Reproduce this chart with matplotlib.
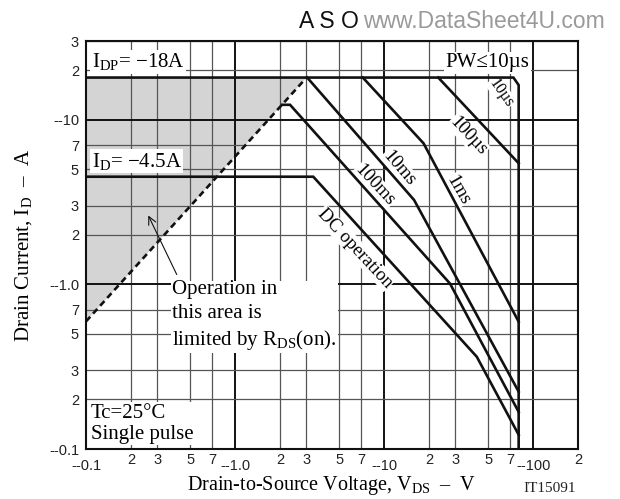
import matplotlib
matplotlib.use('Agg')
import matplotlib.pyplot as plt

plt.rcParams['mathtext.fontset'] = 'custom'
plt.rcParams['mathtext.rm'] = 'Liberation Serif'
plt.rcParams['mathtext.it'] = 'Liberation Serif:italic'

serif = ['Liberation Serif', 'DejaVu Serif']
sans = ['Liberation Sans', 'DejaVu Sans']

# curves: VDS (V) and ID (A), magnitudes
idp_v = [0.1, 73.8, 80, 80]          # IDP = 18A line, PW<=10us corner, VDSS edge
idp_i = [18, 18, 16.2, 0.1]
us100_v = [23.1, 80]
us100_i = [18, 5.43]
ms1_v = [7.2, 18.4, 80]
ms1_i = [18, 7.18, 0.593]
ms10_v = [3.05, 15.9, 80]
ms10_i = [18, 3.25, 0.223]
ms100_v = [2.07, 2.34, 27.7, 80]
ms100_i = [12.3, 12.3, 1.01, 0.168]
dc_v = [0.1, 3.35, 41.9, 80]
dc_i = [4.5, 4.5, 0.363, 0.122]
rds_v = [0.1, 3.02]                   # RDS(on) limit
rds_i = [0.595, 18]

# axis ticks
xticks_major = [0.1, 1, 10, 100]
xlabels_major = ['--0.1', '--1.0', '--10', '--100']
xticks_minor = [0.2, 0.3, 0.5, 0.7, 2, 3, 5, 7, 20, 30, 50, 70, 200]
xlabels_minor = ['2', '3', '5', '7', '2', '3', '5', '7', '2', '3', '5', '7', '2']
yticks_major = [0.1, 1, 10]
ylabels_major = ['--0.1', '--1.0', '--10']
yticks_minor = [0.2, 0.3, 0.5, 0.7, 2, 3, 5, 7, 20, 30]
ylabels_minor = ['2', '3', '5', '7', '2', '3', '5', '7', '2', '3']

fig = plt.figure(figsize=(6.2, 4.99), dpi=100)
ax = fig.add_axes([0.1387, 0.1002, 0.7935, 0.8176])
ax.set_xscale('log')
ax.set_yscale('log')
ax.set_xlim(0.1, 200)
ax.set_ylim(0.1, 30)

# shaded RDS(on) area
ax.fill([rds_v[0], rds_v[1], rds_v[0]], [rds_i[0], rds_i[1], rds_i[1]],
        color='#d4d4d4', lw=0, zorder=0.3)

lw = 1.9
for v, i in [(idp_v, idp_i), (us100_v, us100_i), (ms1_v, ms1_i),
             (ms10_v, ms10_i), (ms100_v, ms100_i), (dc_v, dc_i)]:
    ax.plot(v, i, color='#111111', lw=lw, zorder=4, solid_joinstyle='miter')
ax.plot(rds_v, rds_i, color='#111111', lw=lw, ls=(0, (2.4, 1.6)), zorder=4)

# grid
ax.set_axisbelow(True)
ax.set_xticks(xticks_major, xlabels_major)
ax.set_xticks(xticks_minor, xlabels_minor, minor=True)
ax.set_yticks(yticks_major, ylabels_major)
ax.set_yticks(yticks_minor, ylabels_minor, minor=True)
ax.grid(which='major', color='#111111', lw=1.4)
ax.grid(which='minor', color='#555555', lw=0.9)
ax.tick_params(which='both', length=0, labelsize=10.5, colors='#222222')
ax.tick_params(axis='x', which='major', pad=7)
ax.tick_params(axis='x', which='minor', pad=3)
ax.tick_params(axis='y', which='both', pad=5)
for t in ax.get_xticklabels(which='both') + ax.get_yticklabels(which='both'):
    t.set_family(sans)
for s in ax.spines.values():
    s.set_linewidth(1.5)
    s.set_color('#111111')

box = dict(facecolor='white', edgecolor='none', pad=1.0)
ax.text(0.109, 22.5, r'I$_{\mathrm{DP}}$= −18A', family=serif, fontsize=15,
        ha='left', va='center', bbox=box, zorder=3)
ax.text(0.109, 5.6, r'I$_{\mathrm{D}}$= −4.5A', family=serif, fontsize=15,
        ha='left', va='center', bbox=box, zorder=3)
ax.text(49.5, 22.1, 'PW≤10µs', family=serif, fontsize=15,
        ha='center', va='center', bbox=box, zorder=3)
ax.text(0.378, 0.642, 'Operation in\nthis area is\n' + r'limited by R$_{\mathrm{DS}}$(on).',
        family=serif, fontsize=15, ha='left', va='center', linespacing=1.3,
        bbox=box, zorder=3)
ax.text(0.108, 0.142, 'Tc=25°C\nSingle pulse', family=serif, fontsize=15,
        ha='left', va='center', linespacing=1.15, bbox=box, zorder=3)

rbox = dict(facecolor='white', edgecolor='none', pad=0.5)
labels = [('10µs', 61, 14.5, -55, 11.5), ('100µs', 36.6, 7.95, -47, 13.5),
          ('1ms', 31.4, 3.74, -60, 13.5), ('10ms', 12.6, 5.08, -49, 13.5),
          ('100ms', 8.7, 4.0, -47, 13.5), ('DC operation', 6.39, 1.66, -47, 13.5)]
for txt, x, y, rot, fs in labels:
    ax.text(x, y, txt, family=serif, fontsize=fs, rotation=rot,
            rotation_mode='anchor', ha='center', va='center', bbox=rbox, zorder=3)

ax.annotate('', xy=(0.257, 2.71), xytext=(0.414, 1.107),
            arrowprops=dict(arrowstyle='->', lw=0.8, color='#111111',
                            mutation_scale=14), zorder=3)

ax.set_xlabel(r'Drain-to-Source Voltage, V$_{\mathrm{DS}}$  –  V', family=serif,
              fontsize=14.5, labelpad=1)
ax.set_ylabel(r'Drain Current, I$_{\mathrm{D}}$  –  A', family=serif,
              fontsize=15, labelpad=11)

fig.text(329 / 620, 1 - 22 / 499, 'A S O', family=sans, fontsize=16.5,
         ha='center', va='center', color='#111111')
fig.text(484 / 620, 1 - 22 / 499, 'www.DataSheet4U.com', family=sans,
         fontsize=16.5, ha='center', va='center', color='#9a9a9a')
fig.text(550 / 620, 1 - 488 / 499, 'IT15091', family=serif, fontsize=11,
         ha='center', va='center', color='#222222')

fig.savefig('out.png', dpi=100)
